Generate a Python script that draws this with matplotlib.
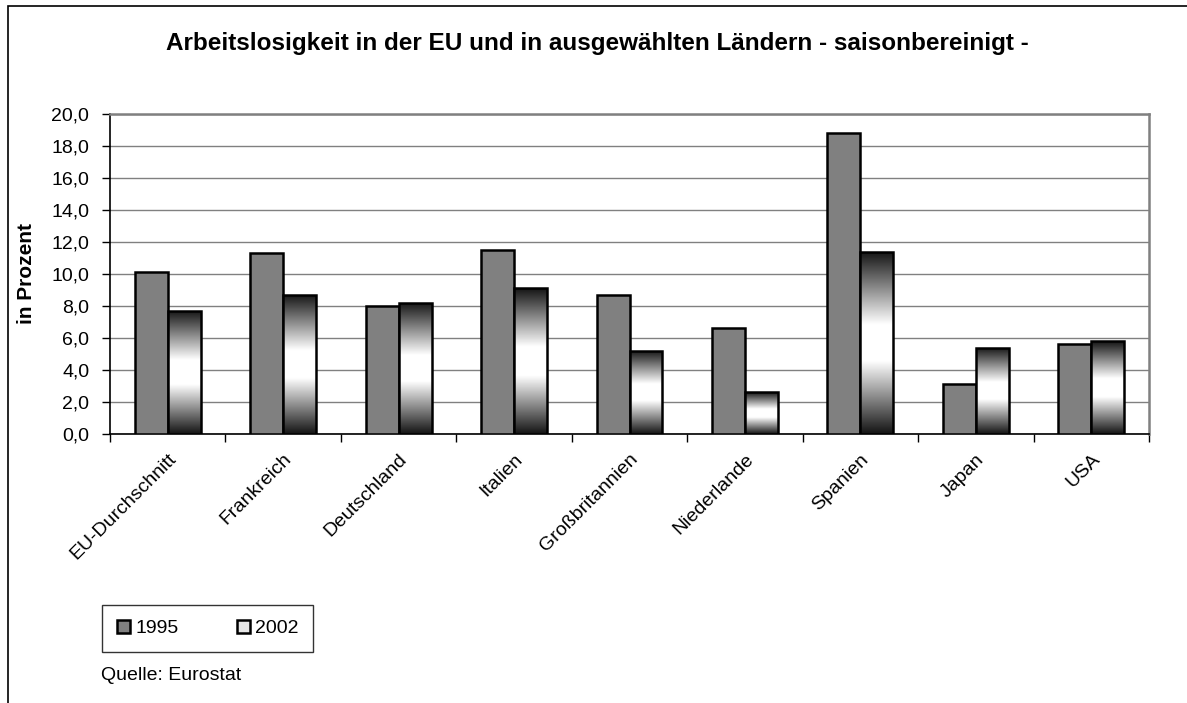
import numpy as np
import matplotlib
matplotlib.use("Agg")
import matplotlib.pyplot as plt
from matplotlib.colors import LinearSegmentedColormap
from matplotlib.patches import Rectangle

plt.rcParams['font.family'] = ['Liberation Sans', 'DejaVu Sans']

laender = ['EU-Durchschnitt', 'Frankreich', 'Deutschland', 'Italien', 'Großbritannien',
           'Niederlande', 'Spanien', 'Japan', 'USA']
werte_1995 = [10.1, 11.3, 8.0, 11.5, 8.7, 6.6, 18.8, 3.1, 5.6]
werte_2002 = [7.7, 8.7, 8.2, 9.1, 5.2, 2.6, 11.4, 5.4, 5.8]
y_ticks = [0, 2, 4, 6, 8, 10, 12, 14, 16, 18, 20]

W, H = 1187, 703
fig = plt.figure(figsize=(W / 100, H / 100), dpi=100)
ax = fig.add_axes([110 / W, 1 - 434 / H, (1149 - 110) / W, (434 - 114) / H])

# outer chart frame (only left and top are inside the picture)
fig.add_artist(Rectangle((8 / W, -0.1), 1.2, 1 - 6 / H + 0.1, transform=fig.transFigure,
                         fill=False, edgecolor='black', lw=1.2))

x = np.arange(len(laender))
bw = 1 / 3.5
grad = LinearSegmentedColormap.from_list('g', ['#141414', '#8a8a8a', '#ffffff', '#ffffff',
                                               '#8a8a8a', '#141414'])
gimg = np.linspace(0, 1, 256).reshape(-1, 1)

ax.bar(x - bw / 2, werte_1995, bw, color='#808080', edgecolor='black', lw=1.8, zorder=3)
bars02 = ax.bar(x + bw / 2, werte_2002, bw, facecolor='none', edgecolor='black', lw=1.8,
                zorder=4)
for b in bars02:
    im = ax.imshow(gimg, cmap=grad, aspect='auto', interpolation='bilinear',
                   extent=[b.get_x(), b.get_x() + b.get_width(), 0, b.get_height()], zorder=3)
    im.set_clip_path(b)

ax.set_xlim(-0.5, len(laender) - 0.5)
ax.set_ylim(0, 20)
ax.set_yticks(y_ticks)
ax.set_yticklabels([f'{v:.1f}'.replace('.', ',') for v in y_ticks], fontsize=14)
ax.yaxis.grid(True, color='#808080', lw=1)
ax.set_axisbelow(True)
ax.tick_params(axis='y', direction='out', length=6, width=1, pad=9)

ax.set_xticks(x)
ax.set_xticklabels(laender, rotation=45, ha='right', rotation_mode='anchor', fontsize=14)
ax.tick_params(axis='x', which='major', length=0, pad=12)
ax.set_xticks(np.arange(-0.5, len(laender)), minor=True)
ax.tick_params(axis='x', which='minor', direction='out', length=6, width=1)

for s in ['top', 'right']:
    ax.spines[s].set_color('#808080')
    ax.spines[s].set_linewidth(1.8)
for s in ['left', 'bottom']:
    ax.spines[s].set_color('black')
    ax.spines[s].set_linewidth(1.2)

fig.text(27 / W, 1 - 274 / H, 'in Prozent', rotation=90, ha='center', va='center',
         fontsize=15, fontweight='bold')

fig.text(166 / W, 1 - 50 / H, 'Arbeitslosigkeit in der EU und in ausgewählten Ländern - saisonbereinigt -',
         ha='left', va='baseline', fontsize=17.5, fontweight='bold')

h1 = Rectangle((0, 0), 1, 1, facecolor='#808080', edgecolor='black', lw=1.8)
h2 = Rectangle((0, 0), 1, 1, facecolor='#e6e6e6', edgecolor='black', lw=1.8)
leg = fig.legend([h1, h2], ['1995', '2002'], loc='upper left',
                 bbox_to_anchor=(102 / W, 1 - 605 / H), ncol=2, fontsize=14,
                 frameon=True, fancybox=False, edgecolor='black', borderaxespad=0,
                 handlelength=0.7, handleheight=0.7, handletextpad=0.25,
                 columnspacing=3.0, borderpad=0.75)
leg.get_frame().set_linewidth(1)

fig.text(101 / W, 1 - 676 / H, 'Quelle: Eurostat', ha='left', va='center', fontsize=14)

fig.savefig('out.png', dpi=100, facecolor='white')
